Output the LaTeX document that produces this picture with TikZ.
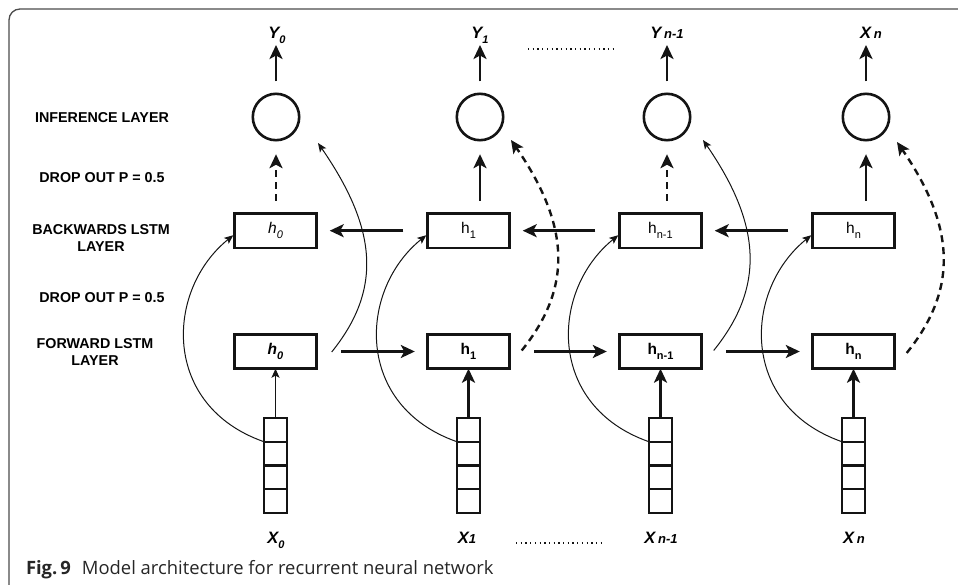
\documentclass[tikz,border=0pt]{standalone}
\usepackage{fontspec}
\setmainfont{Liberation Sans}
\newfontfamily\capfont{Open Sans}
\usetikzlibrary{arrows.meta,calc}

% small lowered index used in the cell and output labels
\newcommand\lowidx[1]{\raisebox{-0.3em}{\fontsize{11}{11}\selectfont #1}}
\newcommand\smallidx[1]{{\fontsize{13}{13}\selectfont #1}}

\tikzset{
  every node/.style={inner sep=0pt, outer sep=0pt},
  ink/.style={draw=black!92, line width=2.6pt},
  circ/.style={ink, circle, minimum size=46.4pt},
  hbox/.style={ink, rectangle, minimum width=82.4pt, minimum height=34.4pt,
               font=\fontsize{15.5}{15.5}\selectfont},
  cell/.style={draw=black!92, line width=2.3pt, rectangle,
               minimum width=22.7pt, minimum height=23.7pt},
  layertext/.style={font=\fontsize{14.3}{17.5}\selectfont\bfseries, anchor=base},
  iotext/.style={font=\fontsize{16.5}{16.5}\selectfont\bfseries\itshape, anchor=base},
  bigarrow/.style={draw=black!92, line width=2.6pt,
                   -{Stealth[length=14pt, width=13pt, inset=3.5pt]}},
  dasharrow/.style={bigarrow, dash pattern=on 7pt off 5pt},
  thinarrow/.style={draw=black!92, line width=1pt,
                    -{Stealth[length=9pt, width=7.5pt, inset=2pt]}},
  dashcurve/.style={draw=black!92, line width=2.4pt, dash pattern=on 7pt off 5pt,
                    -{Stealth[length=13pt, width=12pt, inset=3pt]}},
  dots/.style={draw=black!92, line width=1.5pt, dash pattern=on 1.3pt off 3.4pt},
}

\begin{document}
\begin{tikzpicture}[x=1pt, y=-1pt]
\useasboundingbox (0,0) rectangle (958,585);

% panel frame (top and left edges)
\draw[black!70, line width=1.3pt, rounded corners=11pt] (9,585) -- (9,9) -- (958,9);

% layer names
\node[layertext] (lInf) at (102,122.3) {INFERENCE LAYER};
\node[layertext] (lDrop1) at (102,182.5) {DROP OUT P = 0.5};
\node[layertext] (lBack1) at (101,234.3) {BACKWARDS LSTM};
\node[layertext] (lBack2) at (101,251.8) {LAYER};
\node[layertext] (lDrop2) at (102,302.7) {DROP OUT P = 0.5};
\node[layertext] (lFwd1) at (95,348.3) {FORWARD LSTM};
\node[layertext] (lFwd2) at (95,365.8) {LAYER};

% inference units
\node[circ] (c0) at (276,117) {};
\node[circ] (c1) at (480,117) {};
\node[circ] (c2) at (667,117) {};
\node[circ] (c3) at (866,117) {};

% backward LSTM cells
\node[hbox] (b0) at (275.5,230.7) {\itshape h\lowidx{0}};
\node[hbox] (b1) at (468.5,230.7) {h\lowidx{1}};
\node[hbox] (b2) at (660.5,230.7) {h\lowidx{n-1}};
\node[hbox] (b3) at (853.5,230.7) {h\lowidx{n}};

% forward LSTM cells
\node[hbox] (f0) at (275.5,351.5) {\bfseries\itshape h\lowidx{0}};
\node[hbox] (f1) at (468.5,351.5) {\bfseries h\lowidx{1}};
\node[hbox] (f2) at (660.5,351.5) {\bfseries h\lowidx{n-1}};
\node[hbox] (f3) at (853.5,351.5) {\bfseries h\lowidx{n}};

% input vectors
\foreach \i/\x in {0/275.5, 1/468.5, 2/660.5, 3/853.5}{
  \node[cell] (s\i-1) at (\x,429.95) {};
  \node[cell] (s\i-2) at (\x,453.65) {};
  \node[cell] (s\i-3) at (\x,477.35) {};
  \node[cell] (s\i-4) at (\x,501.05) {};
}

% output labels
\node[iotext] (y0) at (277,38.5) {Y\lowidx{0}};
\node[iotext] (y1) at (480,38.5) {Y\lowidx{1}};
\node[iotext] (y2) at (667,38.5) {Y\,\smallidx{n-1}};
\node[iotext] (y3) at (871,38.5) {X\,\smallidx{n}};
\coordinate (t0) at (276,45);
\coordinate (t1) at (480,45);
\coordinate (t2) at (667,45);
\coordinate (t3) at (866,45);

% input labels
\node[iotext] (x0) at (276,543.3) {X\lowidx{0}};
\node[iotext] (x1) at (467,543.3) {X\smallidx{1}};
\node[iotext] (x2) at (661,543.3) {X\,\smallidx{n-1}};
\node[iotext] (x3) at (854,543.3) {X\,\smallidx{n}};

% ellipses between the sequence positions
\coordinate (dt1) at (528,49);
\coordinate (dt2) at (614,49);
\draw[dots] (dt1) -- (dt2);
\coordinate (db1) at (516,543);
\coordinate (db2) at (602,543);
\draw[dots] (db1) -- (db2);

% outputs
\foreach \i in {0,1,2,3}{
  \draw[bigarrow, shorten <=12.5pt] (c\i.north) -- (t\i);
}

% backward cells to inference units
\draw[dasharrow, shorten <=12.5pt, shorten >=14pt] (b0.north -| c0) -- (c0.south);
\draw[bigarrow,  shorten <=12.5pt, shorten >=14pt] (b1.north -| c1) -- (c1.south);
\draw[dasharrow, shorten <=12.5pt, shorten >=14pt] (b2.north -| c2) -- (c2.south);
\draw[bigarrow,  shorten <=12.5pt, shorten >=14pt] (b3.north -| c3) -- (c3.south);

% backward recurrence
\draw[bigarrow, shorten <=24pt, shorten >=13pt] (b1.west) -- (b0.east);
\draw[bigarrow, shorten <=24pt, shorten >=13pt] (b2.west) -- (b1.east);
\draw[bigarrow, shorten <=24pt, shorten >=13pt] (b3.west) -- (b2.east);

% forward recurrence
\draw[bigarrow, shorten <=24.5pt, shorten >=12.5pt] (f0.east) -- (f1.west);
\draw[bigarrow, shorten <=24.5pt, shorten >=12.5pt] (f1.east) -- (f2.west);
\draw[bigarrow, shorten <=24.5pt, shorten >=12.5pt] (f2.east) -- (f3.west);

% inputs to forward cells
\draw[thinarrow, line width=1.2pt, -{Stealth[length=9pt, width=8pt, inset=2pt]}] (s0-1.north) -- (f0.south);
\draw[bigarrow] (s1-1.north) -- (f1.south);
\draw[bigarrow] (s2-1.north) -- (f2.south);
\draw[bigarrow] (s3-1.north) -- (f3.south);

% inputs to backward cells
\foreach \i in {0,1,2,3}{
  \draw[thinarrow] (s\i-1.south west) .. controls +(-103,-36) and +(-68,55) .. ($(b\i.west)+(-1,4.5)$);
}

% forward cells to inference units
\draw[thinarrow] ($(f0.east)+(15,0.5)$) .. controls +(50,-62) and +(60,87) .. ($(c0)+(42,26)$);
\draw[dashcurve] ($(f1.east)+(12,-1)$) .. controls +(50,-62) and +(60,87) .. ($(c1)+(31,23)$);
\draw[thinarrow] ($(f2.east)+(12,-1)$) .. controls +(50,-62) and +(60,87) .. ($(c2)+(36,23)$);
\draw[dashcurve] ($(f3.east)+(12,1.5)$) .. controls +(50,-62) and +(60,87) .. ($(c3)+(31,25)$);

% caption
\node[anchor=base west, text=black!85] (cap) at (26,574)
  {\capfont\fontsize{18.4}{22}\selectfont\textbf{Fig.\,9}\hspace{0.6em}Model architecture for recurrent neural network};
\end{tikzpicture}
\end{document}
